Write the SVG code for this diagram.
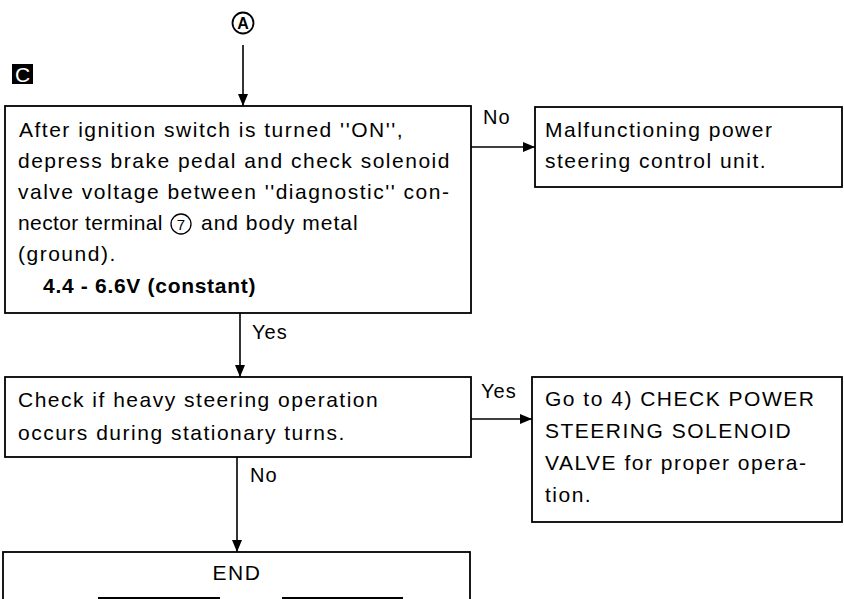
<svg xmlns="http://www.w3.org/2000/svg" width="844" height="599" viewBox="0 0 844 599">
<defs>
<marker id="ah" markerUnits="userSpaceOnUse" markerWidth="12" markerHeight="10" refX="12" refY="5" orient="auto">
<path d="M0,0 L12,5 L0,10 z" fill="#000"/>
</marker>
<style>
.box{fill:#fff;stroke:#000;stroke-width:1.8}
.t{font-family:"Liberation Sans",Arial,sans-serif;font-size:21px;letter-spacing:1.5px;fill:#000}
.b{font-weight:bold;letter-spacing:0.7px}
.lbl{font-family:"Liberation Sans",Arial,sans-serif;font-size:20px;letter-spacing:1px;fill:#000}
.c{fill:none;stroke:#000;stroke-width:1.6;marker-end:url(#ah)}
</style>
</defs>
<rect width="844" height="599" fill="#fff"/>

<g id="connectorA">
<circle cx="243" cy="23" r="10.5" fill="#fff" stroke="#000" stroke-width="1.8"/>
<text x="243" y="29" text-anchor="middle" font-family="'Liberation Sans',Arial,sans-serif" font-size="16" font-weight="bold">A</text>
</g>

<g id="labelC">
<rect x="12" y="64" width="21" height="20" fill="#000"/>
<text x="22.5" y="81.5" text-anchor="middle" font-family="'Liberation Sans',Arial,sans-serif" font-size="21" fill="#fff">C</text>
</g>

<g id="connectors">
<line class="c" x1="243" y1="45" x2="243" y2="106"/>
<line class="c" x1="471" y1="147" x2="535" y2="147"/>
<line class="c" x1="240" y1="313" x2="240" y2="377"/>
<line class="c" x1="471" y1="419" x2="532" y2="419"/>
<line class="c" x1="237" y1="457" x2="237" y2="552"/>
<text class="lbl" x="483" y="124">No</text>
<text class="lbl" x="252" y="339">Yes</text>
<text class="lbl" x="481" y="398">Yes</text>
<text class="lbl" x="250" y="482">No</text>
</g>

<g id="check1">
<rect class="box" x="5" y="106" width="466" height="207"/>
<text class="t" x="19" y="137">After ignition switch is turned ''ON'',</text>
<text class="t" x="18" y="168">depress brake pedal and check solenoid</text>
<text class="t" x="18" y="199">valve voltage between ''diagnostic'' con-</text>
<text class="t" x="18" y="230" style="letter-spacing:0.4px">nector terminal</text>
<circle cx="181" cy="224" r="10" fill="none" stroke="#000" stroke-width="1.3"/>
<text x="181" y="229.5" text-anchor="middle" font-family="'Liberation Sans',Arial,sans-serif" font-size="15">7</text>
<text class="t" x="201" y="230" style="letter-spacing:1px">and body metal</text>
<text class="t" x="18" y="261">(ground).</text>
<text class="t b" x="43" y="293">4.4 - 6.6V (constant)</text>
</g>

<g id="result1">
<rect class="box" x="535" y="107" width="307" height="80"/>
<text class="t" x="545" y="137">Malfunctioning power</text>
<text class="t" x="545" y="168">steering control unit.</text>
</g>

<g id="check2">
<rect class="box" x="5" y="377" width="466" height="80"/>
<text class="t" x="18" y="407">Check if heavy steering operation</text>
<text class="t" x="18" y="440">occurs during stationary turns.</text>
</g>

<g id="result2">
<rect class="box" x="532" y="377" width="310" height="145"/>
<text class="t" x="545" y="406">Go to 4) CHECK POWER</text>
<text class="t" x="545" y="438">STEERING SOLENOID</text>
<text class="t" x="545" y="470">VALVE for proper opera-</text>
<text class="t" x="545" y="502">tion.</text>
</g>

<g id="end">
<rect class="box" x="3" y="552" width="467" height="60"/>
<text class="t" x="237" y="580" text-anchor="middle">END</text>
<line x1="98" y1="598" x2="220" y2="598" stroke="#000" stroke-width="2"/>
<line x1="282" y1="598" x2="403" y2="598" stroke="#000" stroke-width="2"/>
</g>
</svg>
